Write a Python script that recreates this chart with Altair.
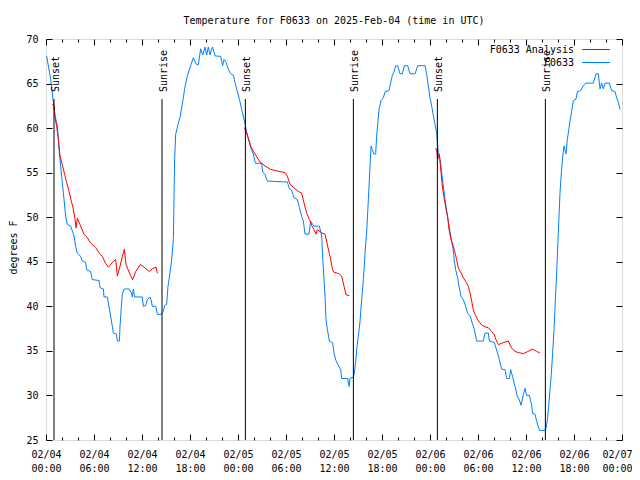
import altair as alt
import pandas as pd

FONT = "DejaVu Sans Mono"
BLUE = "#0080ff"
RED = "#ff0000"

title_text = "Temperature for F0633 on 2025-Feb-04 (time in UTC)"
y_title = "degrees F"

# Hours since 2025-02-04 00:00 UTC
blue_hours = [0.08, 0.58, 0.92, 1.13, 1.42, 1.63, 1.83, 2.04, 2.25, 2.46, 2.67, 3.08, 3.5, 3.7, 3.9,
              4.33, 4.54, 4.96, 5.08, 5.58, 5.79, 6.63, 6.75, 7.17, 7.25, 7.67, 7.79, 8.08, 8.29,
              8.42, 8.79, 8.92, 9.17, 9.25, 9.42, 9.54, 9.75, 10.38, 10.67, 10.79, 10.92, 11.08,
              12.04, 12.17, 12.46, 12.67, 13.0, 13.17, 13.29, 13.71, 13.92, 14.42, 14.67, 14.83,
              15.08, 15.25, 15.5, 15.67, 15.92, 16.0, 16.08, 16.21, 16.5, 16.75, 17.04, 17.33,
              17.67, 18.08, 18.42, 18.75, 19.04, 19.33, 19.58, 19.88, 20.08, 20.29, 20.5, 20.71,
              20.83, 21.13, 21.83, 22.08, 22.25, 22.5, 22.79, 23.08, 23.42, 23.63, 23.83, 24.17,
              24.46, 24.75, 25.0, 25.17, 25.42, 25.67, 25.92, 26.17, 26.96, 27.08, 27.38, 27.67,
              30.17, 30.42, 30.7, 31.0, 31.42, 31.67, 31.96, 32.17, 32.38, 32.88, 33.08, 33.33,
              33.5, 34.17, 34.46, 34.58, 34.75, 34.88, 35.0, 35.17, 35.42, 35.83, 36.0, 36.25,
              36.54, 36.83, 36.96, 37.71, 37.88, 38.0, 38.42, 38.54, 38.71, 38.88, 39.04, 39.25,
              39.46, 39.67, 39.88, 40.08, 40.21, 40.38, 40.5, 40.63, 40.79, 40.96, 41.21, 41.33,
              41.46, 41.63, 41.88, 42.17, 42.38, 42.88, 43.08, 43.29, 43.54, 43.71, 43.96, 44.25,
              44.54, 44.79, 45.21, 45.5, 46.13, 46.46, 47.38, 47.58, 47.79, 48.0, 48.21, 48.42,
              48.63, 48.83, 49.04, 49.25, 49.46, 49.67, 49.88, 50.08, 50.29, 50.5, 50.71, 50.92,
              51.04, 51.21, 51.46, 51.63, 51.88, 52.17, 52.46, 52.71, 53.0, 53.29, 53.54, 53.83,
              54.67, 54.88, 55.29, 55.42, 56.04, 56.33, 56.67, 56.96, 57.38, 57.58, 57.92, 58.08,
              58.33, 58.63, 58.92, 59.17, 59.38, 59.67, 59.88, 60.08, 60.42, 60.71, 60.83, 61.13,
              61.33, 61.67, 62.29, 62.5, 62.67, 62.83, 63.0, 63.17, 63.33, 63.5, 63.67, 63.83,
              64.04, 64.25, 64.42, 64.58, 64.75, 65.0, 65.17, 65.33, 65.5, 65.71, 65.92, 66.25,
              66.42, 66.83, 67.17, 67.5, 68.42, 68.75, 69.04, 69.25, 69.46, 69.67, 69.88, 70.42,
              70.71, 71.13, 71.33, 71.54, 71.75]
blue_temps = [68.1, 65.5, 62.9, 61.4, 60.25, 57.6, 55.75, 53.9, 52.0, 50.1, 49.2, 49.0, 47.9, 46.75, 46.0,
              45.6, 45.1, 44.95, 44.1, 43.9, 43.0, 42.9, 42.1, 41.95, 41.05, 41.05, 40.4, 38.9, 37.75,
              37.0, 36.9, 36.1, 36.1, 37.75, 40.0, 41.4, 41.95, 41.95, 41.5, 41.05, 41.95, 41.05,
              41.05, 40.0, 40.1, 40.75, 41.05, 40.6, 40.0, 40.0, 39.1, 39.1, 39.45, 40.1,
              40.2, 42.25, 43.75, 44.9, 47.5, 52.0, 56.5, 59.3, 60.4, 61.2, 62.7, 64.4,
              65.9, 67.0, 67.9, 67.2, 67.1, 68.9, 68.2, 69.1, 68.2, 69.1, 68.2, 68.9,
              69.1, 68.1, 68.05, 67.0, 67.7, 67.4, 66.6, 66.1, 65.95, 65.1, 64.4, 63.25,
              62.1, 61.0, 59.95, 59.1, 58.4, 57.6, 57.1, 56.05, 56.05, 55.1, 54.8, 54.05,
              53.95, 53.2, 53.05, 52.2, 52.0, 51.1, 50.1, 49.55, 48.1, 48.1, 49.55, 49.2,
              49.0, 49.0, 47.9, 45.6, 43.0, 41.1, 38.5, 37.4, 36.1, 35.9, 34.75, 33.9,
              33.4, 32.9, 31.9, 31.9, 31.0, 31.9, 32.05, 32.5, 33.8, 35.5, 36.6, 38.3,
              40.75, 43.0, 46.0, 48.25, 50.5, 53.5, 55.75, 58.0, 57.6, 57.1, 57.1, 59.1,
              60.4, 62.1, 63.1, 63.4, 64.1, 64.2, 65.1, 65.9, 66.4, 67.0, 67.0, 66.1,
              66.1, 67.0, 67.0, 66.1, 66.1, 67.0, 67.0, 66.1, 64.75, 63.4, 62.5, 61.4,
              60.4, 59.5, 57.25, 56.5, 55.0, 53.5, 52.0, 50.7, 49.55, 48.4, 47.3, 46.2,
              45.1, 44.1, 43.2, 42.25, 41.1, 40.75, 40.0, 39.2, 38.95, 38.1, 37.4, 36.1,
              36.1, 37.0, 37.0, 36.1, 35.95, 35.1, 34.0, 32.95, 32.9, 31.9, 31.9, 32.9,
              32.1, 31.0, 29.9, 29.5, 28.9, 30.1, 30.8, 30.0, 30.0, 28.9, 28.0, 27.9,
              27.1, 26.1, 26.05, 26.3, 27.25, 28.75, 30.6, 32.5, 34.75, 37.4, 40.75, 43.75,
              48.25, 52.75, 55.0, 56.7, 58.0, 57.1, 58.75, 59.7, 60.8, 61.9, 63.1, 63.25,
              64.1, 64.2, 64.75, 65.05, 65.05, 66.1, 66.1, 64.4, 65.05, 64.4, 65.05, 65.05,
              64.2, 64.1, 63.4, 62.9, 62.1]

red1_hours = [0.79, 1.0, 1.13, 1.33, 1.5, 1.63, 1.75, 2.04, 2.33, 2.58, 2.88, 3.17, 3.42, 3.63, 3.75,
              3.92, 4.13, 4.42, 4.75, 5.17, 5.58, 6.21, 6.63, 7.04, 7.46, 7.79, 8.29, 8.71, 8.92,
              9.25, 9.54, 9.79, 10.0, 10.5, 10.83, 11.21, 11.83, 12.25, 12.92, 13.29, 13.75, 13.92]
red1_temps = [62.7, 62.5, 61.2, 60.2, 59.1, 58.0, 56.9, 55.9, 54.8, 53.9, 52.9, 51.8, 50.9, 49.75, 48.8,
              49.9, 49.45, 48.8, 48.1, 47.7, 47.1, 46.6, 46.0, 45.6, 44.8, 44.4, 44.9, 45.25, 43.4,
              44.5, 45.6, 46.4, 44.7, 43.6, 43.0, 43.9, 44.7, 44.4, 43.9, 44.2, 44.4, 43.7]

red2_hours = [24.79, 25.08, 25.29, 25.58, 25.92, 26.25, 26.75, 27.38, 28.0, 28.83, 29.88, 30.17, 30.5,
              31.0, 31.54, 31.96, 32.25, 32.58, 32.92, 33.21, 33.5, 33.75, 33.92, 34.25, 34.46,
              34.88, 35.17, 35.5, 35.83, 36.0, 36.54, 36.96, 37.25, 37.5, 37.92]
red2_temps = [60.06, 59.5, 58.9, 58.0, 57.4, 56.9, 56.2, 55.75, 55.4, 55.2, 55.0, 54.6, 53.7,
              53.3, 52.9, 52.7, 51.6, 50.5, 49.75, 49.1, 48.6, 48.1, 48.6, 48.4, 48.25,
              48.1, 46.9, 45.6, 44.1, 43.8, 43.7, 43.4, 42.25, 41.3, 41.2]

red3_hours = [48.63, 48.83, 48.96, 49.17, 49.38, 49.54, 49.75, 49.96, 50.2, 50.38, 50.63, 50.92, 51.13,
              51.33, 51.54, 51.88, 52.17, 52.46, 52.79, 53.0, 53.21, 53.42, 53.63, 53.96, 54.46,
              54.88, 55.29, 55.7, 56.04, 56.25, 56.54, 57.17, 57.79, 58.2, 58.63, 59.04, 59.67,
              60.29, 60.83, 61.33, 61.75]
red3_temps = [57.7, 57.6, 56.5, 57.1, 55.0, 53.5, 52.2, 51.1, 50.1, 48.6, 47.5, 46.75, 46.0,
              45.25, 44.3, 43.75, 43.2, 42.8, 42.25, 41.5, 40.6, 39.6, 39.1, 38.5, 37.9,
              37.7, 37.6, 37.2, 36.8, 36.25, 35.7, 35.95, 36.1, 35.3, 34.95, 34.8, 34.7,
              34.95, 35.2, 34.95, 34.75]

event_hours = [1.0, 14.5, 24.92, 38.42, 48.92, 62.42]
event_labels = ["Sunset", "Sunrise", "Sunset", "Sunrise", "Sunset", "Sunrise"]

legend_labels = ["F0633 Analysis", "F0633"]
legend_colors = [RED, BLUE]

x_label_hours = list(range(0, 73, 6))
x_tick_hours = list(range(0, 73, 2))
y_values = list(range(25, 71, 5))

blue_df = pd.DataFrame({"hour": blue_hours, "temp": blue_temps})
red_df = pd.concat([
    pd.DataFrame({"hour": red1_hours, "temp": red1_temps, "seg": "d1"}),
    pd.DataFrame({"hour": red2_hours, "temp": red2_temps, "seg": "d2"}),
    pd.DataFrame({"hour": red3_hours, "temp": red3_temps, "seg": "d3"}),
], ignore_index=True)
events_df = pd.DataFrame({"hour": event_hours, "label": event_labels})

W, H = 576, 401
xs = alt.Scale(domain=[0, 72], nice=False, zero=False)
ys = alt.Scale(domain=[25, 70], nice=False, zero=False)

cond_ts = {"condition": {"test": "datum.value % 6 === 0", "value": 6}, "value": 3}
last_label = "datum.value >= 72"

x_label_axis = alt.Axis(
    orient="bottom", values=x_label_hours,
    labelExpr="['02/0' + (4 + floor(datum.value / 24)), ((datum.value % 24) < 10 ? '0' : '') + (datum.value % 24) + ':00']",
    ticks=False, tickSize=0, domain=False, grid=False, labelPadding=9,
    labelFont=FONT, labelFontSize=10, labelColor="black", labelLineHeight=14,
    labelFlush=False, labelOverlap=False,
    labelAlign={"condition": {"test": last_label, "value": "right"}, "value": "center"},
    labelOffset={"condition": {"test": last_label, "value": 10}, "value": 0})
y_label_axis = alt.Axis(
    orient="left", values=y_values, ticks=False, tickSize=0, domain=False, grid=False,
    labelPadding=8, labelFont=FONT, labelFontSize=10, labelColor="black",
    labelFlush=False, labelOverlap=False,
    titleFont=FONT, titleFontSize=10, titleFontWeight="normal", titleColor="black",
    titleAngle=270, titleX=-30, titleY=208, titleAlign="center", titleBaseline="alphabetic")

tick_common = dict(labels=False, domain=False, grid=False, tickColor="black", tickWidth=1,
                   minExtent=0, maxExtent=0)
x_bottom_ticks = alt.Axis(orient="top", offset=-H, values=x_tick_hours, tickSize=cond_ts, **tick_common)
x_top_ticks = alt.Axis(orient="bottom", offset=-H, values=x_tick_hours, tickSize=cond_ts, **tick_common)
y_left_ticks = alt.Axis(orient="right", offset=-W, values=y_values, tickSize=6, **tick_common)
y_right_ticks = alt.Axis(orient="left", offset=-W, values=y_values, tickSize=6, **tick_common)

blue_layer = alt.Chart(blue_df).mark_line(color=BLUE, strokeWidth=1).encode(
    x=alt.X("hour:Q", scale=xs, axis=x_label_axis, title=None),
    y=alt.Y("temp:Q", scale=ys, axis=y_label_axis, title=y_title))

red_layer = alt.Chart(red_df).mark_line(color=RED, strokeWidth=1).encode(
    x=alt.X("hour:Q", scale=xs, axis=x_bottom_ticks, title=None),
    y=alt.Y("temp:Q", scale=ys, axis=y_left_ticks, title=None),
    detail="seg:N")

axis_layer = alt.Chart(blue_df).mark_line(opacity=0).encode(
    x=alt.X("hour:Q", scale=xs, axis=x_top_ticks, title=None),
    y=alt.Y("temp:Q", scale=ys, axis=y_right_ticks, title=None))

rule_layer = alt.Chart(events_df).mark_rule(color="black", strokeWidth=1).encode(
    x=alt.X("hour:Q", scale=xs, axis=None),
    y=alt.value(60), y2=alt.value(H))

text_layer = alt.Chart(events_df).mark_text(
    angle=270, align="left", baseline="alphabetic", dy=5,
    font=FONT, fontSize=10, color="black").encode(
    x=alt.X("hour:Q", scale=xs, axis=None),
    y=alt.value(53), text="label:N")

legend_layers = []
for i, (lab, col) in enumerate(zip(legend_labels, legend_colors)):
    ldf = pd.DataFrame({"label": [lab]})
    legend_layers.append(
        alt.Chart(ldf).mark_text(align="right", baseline="middle", font=FONT,
                                 fontSize=10, color="black").encode(
            x=alt.value(528), y=alt.value(11 + 13 * i), text="label:N"))
    legend_layers.append(
        alt.Chart(ldf).mark_rule(color=col, strokeWidth=1).encode(
            x=alt.value(536), x2=alt.value(564), y=alt.value(10.5 + 13 * i)))

chart = alt.layer(
    blue_layer, red_layer, axis_layer, rule_layer, text_layer, *legend_layers
).resolve_axis(
    x="independent", y="independent"
).properties(
    width=W, height=H,
    title=alt.TitleParams(text=title_text, font=FONT, fontSize=10, fontWeight="normal",
                          color="black", anchor="middle", frame="group",
                          baseline="alphabetic", offset=0),
    padding={"left": 38, "top": 31, "right": 10, "bottom": 32},
    autosize=alt.AutoSizeParams(type="none"),
).configure_view(
    stroke="black", strokeWidth=1
).configure(background="white")

chart.save("out.html", embed_options={"renderer": "svg", "actions": False})
